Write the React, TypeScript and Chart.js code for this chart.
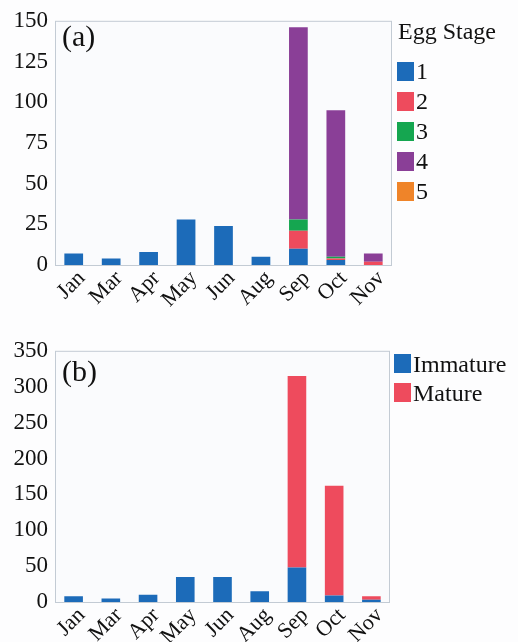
import React, { useEffect, useRef } from "react";
import { Chart, registerables } from "chart.js";

Chart.register(...registerables);

// Sampling months
const months = ["Jan", "Mar", "Apr", "May", "Jun", "Aug", "Sep", "Oct", "Nov"];

// (a) egg counts by developmental stage
const stage1 = [7, 4, 8, 28, 24, 5, 10, 3, 0];
const stage2 = [0, 0, 0, 0, 0, 0, 11, 1, 2];
const stage3 = [0, 0, 0, 0, 0, 0, 7, 1, 0];
const stage4 = [0, 0, 0, 0, 0, 0, 118, 90, 5];
const stage5 = [0, 0, 0, 0, 0, 0, 0, 0, 0];
const stageLabels = ["1", "2", "3", "4", "5"];

// (b) counts by maturity
const immature = [8, 5, 10, 35, 35, 15, 48, 9, 3];
const mature = [0, 0, 0, 0, 0, 0, 267, 153, 5];
const maturityLabels = ["Immature", "Mature"];

const BLUE = "#1c6bb9";
const RED = "#ee4b5d";
const GREEN = "#15a650";
const PURPLE = "#8a3f97";
const ORANGE = "#ef8429";

const FONT = "'Liberation Serif', 'Times New Roman', serif";

// Plot background, frame and slanted month labels
const plotFrame = {
  id: "plotFrame",
  beforeDatasetsDraw(chart: any) {
    const { ctx, chartArea: a } = chart;
    ctx.save();
    ctx.fillStyle = "#fafbfd";
    ctx.fillRect(a.left, a.top, a.right - a.left, a.bottom - a.top);
    ctx.restore();
  },
  afterDatasetsDraw(chart: any) {
    const { ctx, chartArea: a } = chart;
    ctx.save();
    ctx.strokeStyle = "#c3cbd4";
    ctx.lineWidth = 1;
    ctx.strokeRect(a.left + 0.5, a.top + 0.5, a.right - a.left - 1, a.bottom - a.top);
    ctx.restore();

    const xs = chart.scales.x;
    const labels = chart.data.labels as string[];
    ctx.save();
    ctx.fillStyle = "#111";
    ctx.font = `22px ${FONT}`;
    ctx.textAlign = "right";
    ctx.textBaseline = "middle";
    labels.forEach((lab, i) => {
      const x = xs.getPixelForTick(i) + 8;
      const y = xs.top + 10;
      ctx.save();
      ctx.translate(x, y);
      ctx.rotate(-Math.PI / 4);
      ctx.fillText(lab, 0, 0);
      ctx.restore();
    });
    ctx.restore();
  },
};

type Series = { label: string; data: number[]; color: string };

function StackedBars(props: {
  series: Series[];
  yMax: number;
  yStep: number;
  top: number;
  height: number;
  padTop: number;
  padRight: number;
  xHeight: number;
}) {
  const ref = useRef<HTMLCanvasElement | null>(null);
  useEffect(() => {
    if (!ref.current) return;
    const chart = new Chart(ref.current, {
      type: "bar",
      data: {
        labels: months,
        datasets: props.series.map((s) => ({
          label: s.label,
          data: s.data,
          backgroundColor: s.color,
          borderColor: s.color,
          borderWidth: 0,
          categoryPercentage: 1,
          barPercentage: 0.5,
        })),
      },
      options: {
        animation: false,
        responsive: false,
        layout: { padding: { top: props.padTop, right: props.padRight, left: 0, bottom: 0 } },
        plugins: { legend: { display: false }, tooltip: { enabled: false } },
        scales: {
          x: {
            stacked: true,
            grid: { display: false, drawTicks: false },
            border: { display: false },
            ticks: { display: false },
            afterFit: (scale: any) => {
              scale.height = props.xHeight;
            },
          },
          y: {
            stacked: true,
            min: 0,
            max: props.yMax,
            grid: { display: false, drawTicks: false },
            border: { display: false },
            ticks: {
              stepSize: props.yStep,
              color: "#111",
              font: { family: FONT, size: 23 },
              padding: 7,
            },
            afterFit: (scale: any) => {
              scale.width = 55;
            },
          },
        },
      },
      plugins: [plotFrame],
    });
    return () => chart.destroy();
  }, []);
  return (
    <canvas
      ref={ref}
      width={518}
      height={props.height}
      style={{ position: "absolute", left: 0, top: props.top, width: 518, height: props.height }}
    />
  );
}

function Legend(props: { left: number; top: number; title?: string; items: { label: string; color: string }[]; gap: number }) {
  return (
    <div style={{ position: "absolute", left: props.left, top: props.top, fontFamily: FONT, color: "#111" }}>
      {props.title && (
        <div style={{ fontSize: 24, lineHeight: "26px", height: 38, marginLeft: 1, whiteSpace: "nowrap" }}>{props.title}</div>
      )}
      {props.items.map((it) => (
        <div key={it.label} style={{ display: "flex", alignItems: "center", height: props.gap }}>
          <span style={{ display: "inline-block", width: 17, height: 19, background: it.color, marginRight: 2 }} />
          <span style={{ fontSize: 24, lineHeight: "20px" }}>{it.label}</span>
        </div>
      ))}
    </div>
  );
}

export default function App() {
  const stageColors = [BLUE, RED, GREEN, PURPLE, ORANGE];
  const stageData = [stage1, stage2, stage3, stage4, stage5];
  const stageSeries = stageLabels.map((l, i) => ({ label: l, data: stageData[i], color: stageColors[i] }));
  const maturitySeries = [
    { label: maturityLabels[0], data: immature, color: BLUE },
    { label: maturityLabels[1], data: mature, color: RED },
  ];
  return (
    <div style={{ position: "absolute", left: 0, top: 0, width: 518, height: 642, background: "#fdfdfe", overflow: "hidden" }}>
      <StackedBars series={stageSeries} yMax={150} yStep={25} top={0} height={325} padTop={10} padRight={126} xHeight={60} />
      <StackedBars series={maturitySeries} yMax={350} yStep={50} top={330} height={340} padTop={18} padRight={128} xHeight={68} />
      <div style={{ position: "absolute", left: 62, top: 19, fontFamily: FONT, fontSize: 30, color: "#111" }}>(a)</div>
      <div style={{ position: "absolute", left: 62, top: 354, fontFamily: FONT, fontSize: 30, color: "#111" }}>(b)</div>
      <Legend
        left={397}
        top={18}
        title="Egg Stage"
        gap={30}
        items={stageSeries.map((s) => ({ label: s.label, color: s.color }))}
      />
      <Legend
        left={394}
        top={349}
        gap={29}
        items={maturitySeries.map((s) => ({ label: s.label, color: s.color }))}
      />
    </div>
  );
}
